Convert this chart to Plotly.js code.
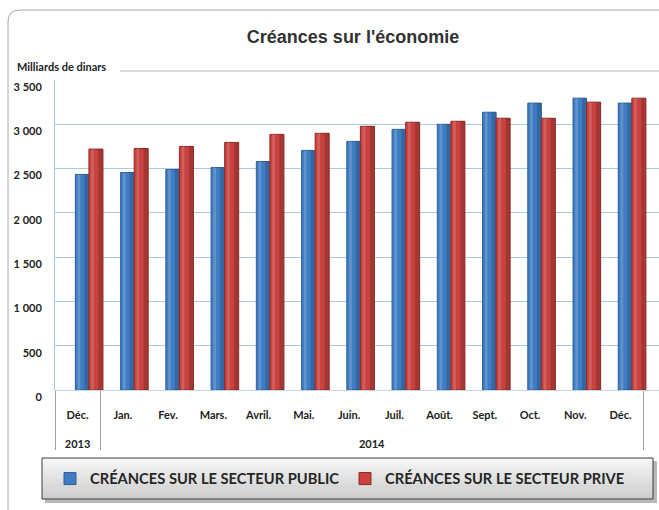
<!DOCTYPE html>
<html>
<head>
<meta charset="utf-8">
<script src="https://cdn.plot.ly/plotly-3.0.1.min.js"></script>
<style>html,body{margin:0;padding:0;background:#fff;}#chart{width:659px;height:510px;}</style>
</head>
<body>
<div id="chart"></div>
<script>
// ---- data ----
const years = ['<br><br>2013','<br><br>2014','<br><br>2014','<br><br>2014','<br><br>2014','<br><br>2014','<br><br>2014','<br><br>2014','<br><br>2014','<br><br>2014','<br><br>2014','<br><br>2014','<br><br>2014'];
const months = ['Déc.','Jan.','Fev.','Mars.','Avril.','Mai.','Juin.','Juil.','Août.','Sept.','Oct.','Nov.','Déc.\u200b'];
const publicClaims = [2434, 2455, 2489, 2511, 2580, 2705, 2807, 2943, 3000, 3136, 3239, 3295, 3239];
const privateClaims = [2720, 2727, 2750, 2795, 2886, 2898, 2977, 3023, 3034, 3068, 3068, 3250, 3295];
const seriesNames = ['CRÉANCES SUR LE SECTEUR PUBLIC', 'CRÉANCES SUR LE SECTEUR PRIVE'];
const yTicks = [0, 500, 1000, 1500, 2000, 2500, 3000, 3500];

// ---- geometry helpers (pixel -> paper) ----
const W = 659, H = 510, L = 55, T = 80, PW = W - L, PH = 310;
const px = p => (p - L) / PW;
const py = p => (T + PH - p) / PH;

function shade(name, yv, off, wid, color) {
  return {type:'bar', name:name, x:[years, months], y:yv, offset:off, width:wid,
    showlegend:false, hoverinfo:'skip', marker:{color:color, line:{width:0}}};
}

const traces = [
  {type:'bar', name: seriesNames[0], x:[years, months], y: publicClaims,
   offset: -0.05, width: 0.30,
   marker:{color:'#3f7cc2', line:{color:'#2d5f99', width:1}}},
  shade('pubHi', publicClaims, 0.0, 0.06, 'rgba(255,255,255,0.18)'),
  shade('pubLo', publicClaims, 0.15, 0.09, 'rgba(0,0,0,0.16)'),
  {type:'bar', name: seriesNames[1], x:[years, months], y: privateClaims,
   offset: 0.25, width: 0.31,
   marker:{color:'#c9423f', line:{color:'#8e2a27', width:1}}},
  shade('priHi', privateClaims, 0.30, 0.06, 'rgba(255,255,255,0.16)'),
  shade('priLo', privateClaims, 0.46, 0.09, 'rgba(0,0,0,0.18)')
];

const shapes = [];
// outer rounded frame
shapes.push({type:'path', xref:'paper', yref:'paper', layer:'below',
  path:`M ${px(8)} ${py(540)} L ${px(8)} ${py(22)} Q ${px(8)} ${py(10)} ${px(20)} ${py(10)} L ${px(700)} ${py(10)}`,
  line:{color:'#a8a8a8', width:1}});
// line under title
shapes.push({type:'line', xref:'paper', yref:'paper', layer:'below',
  x0:px(120), x1:px(700), y0:py(71), y1:py(71), line:{color:'#cfcfcf', width:1.5}});
// legend box shadow
shapes.push({type:'rect', xref:'paper', yref:'paper', layer:'above',
  x0:px(45), x1:px(657), y0:py(461), y1:py(503), fillcolor:'rgba(0,0,0,0.28)', line:{width:0}});
// legend box gradient stripes
const nS = 12, bx0 = 42, bx1 = 653, by0 = 458, by1 = 499;
for (let i = 0; i < nS; i++) {
  const t = i / (nS - 1);
  const g = Math.round(246 - t * 40);
  shapes.push({type:'rect', xref:'paper', yref:'paper', layer:'above',
    x0:px(bx0), x1:px(bx1), y0:py(by0 + (by1-by0)*i/nS), y1:py(by0 + (by1-by0)*(i+1)/nS + 0.5),
    fillcolor:`rgb(${g},${g},${g})`, line:{width:0}});
}
shapes.push({type:'rect', xref:'paper', yref:'paper', layer:'above',
  x0:px(bx0), x1:px(bx1), y0:py(by0), y1:py(by1), line:{color:'#3a3a3a', width:1}});

const layout = {
  width: W, height: H,
  margin:{l:L, r:0, t:T, b:H - T - PH, pad:0},
  paper_bgcolor:'#ffffff', plot_bgcolor:'rgba(0,0,0,0)',
  separators: ', ',
  barmode:'overlay',
  font:{family:'Lato, "Open Sans", sans-serif', size:11, color:'#222'},
  title:{text:"Créances sur l'économie", xref:'container', yref:'container',
    x: 353/W, y: 1 - 37/H, xanchor:'center', yanchor:'middle',
    font:{family:'"Liberation Sans", Arial, sans-serif', size:18, weight:'bold', color:'#333'}},
  xaxis:{type:'multicategory', range:[-0.5, 12.85], autorange:false,
    showgrid:false, zeroline:false, showline:true, linecolor:'#c6d8e4', linewidth:1,
    ticks:'', showdividers:true, dividercolor:'#a0a0a0', dividerwidth:1, ticklabelstandoff:15,
    tickfont:{family:'Lato, sans-serif', size:11, weight:'bold', color:'#222'}},
  yaxis:{range:[0, 3500], autorange:false, tickvals: yTicks, separatethousands:true,
    showgrid:true, gridcolor:'#a9cbe0', gridwidth:1, zeroline:false,
    showline:true, linecolor:'#a9cbe0', ticks:'', ticklabelstandoff:10, ticklabelshift:7,
    tickfont:{family:'Lato, sans-serif', size:11, weight:'bold', color:'#222'}},
  showlegend:true,
  legend:{orientation:'h', xref:'container', yref:'container', x: 50/W, y: 1 - 479/H,
    xanchor:'left', yanchor:'middle', bgcolor:'rgba(0,0,0,0)', borderwidth:0,
    entrywidth: 250, entrywidthmode:'pixels', itemwidth:30,
    font:{family:'Lato, sans-serif', size:14.7, weight:'bold', color:'#262626'}},
  annotations:[
    {text:'Milliards de dinars', xref:'paper', yref:'paper', x:px(15), y:py(66),
     xanchor:'left', yanchor:'middle', showarrow:false,
     font:{family:'Lato, sans-serif', size:11, weight:'bold', color:'#222'}}
  ],
  shapes: shapes
};

Plotly.newPlot('chart', traces, layout, {displayModeBar:false, staticPlot:true});
</script>
</body>
</html>
